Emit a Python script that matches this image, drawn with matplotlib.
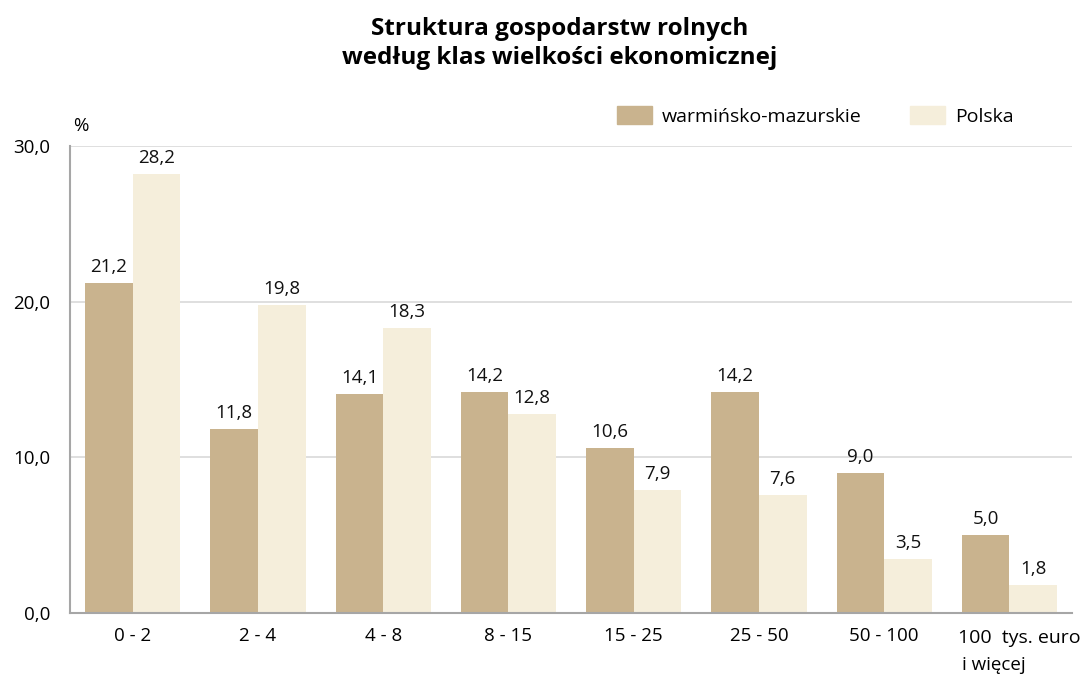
import matplotlib
matplotlib.use("Agg")
import matplotlib.pyplot as plt
import numpy as np
from matplotlib.patches import Patch

plt.rcParams['font.family'] = ['Open Sans', 'DejaVu Sans']

categories = ["0 - 2", "2 - 4", "4 - 8", "8 - 15", "15 - 25", "25 - 50", "50 - 100",
              "100  tys. euro\ni więcej"]
warm_maz = [21.2, 11.8, 14.1, 14.2, 10.6, 14.2, 9.0, 5.0]
polska = [28.2, 19.8, 18.3, 12.8, 7.9, 7.6, 3.5, 1.8]
series_names = ["warmińsko-mazurskie", "Polska"]
yticks = [0, 10, 20, 30]

c_region = "#C9B38E"
c_pl = "#F5EEDB"
fs = 13.5

fig = plt.figure(figsize=(10.84, 6.74), dpi=100)
ax = fig.add_axes([0.0646, 0.0905, 0.9244, 0.6929])

x = np.arange(len(categories))
w = 0.38
b1 = ax.bar(x - w / 2, warm_maz, w, color=c_region, zorder=2)
b2 = ax.bar(x + w / 2, polska, w, color=c_pl, zorder=2)

for bars, vals in ((b1, warm_maz), (b2, polska)):
    for r, v in zip(bars, vals):
        ax.text(r.get_x() + r.get_width() / 2, v + 0.45, f"{v:.1f}".replace(".", ","),
                ha="center", va="bottom", fontsize=fs, color="#111111")

ax.set_xlim(-0.5, len(categories) - 0.5)
ax.set_ylim(0, 30)
ax.set_yticks(yticks)
ax.set_yticklabels([f"{t:.1f}".replace(".", ",") for t in yticks], fontsize=fs)
ax.yaxis.grid(True, color="#D9D9D9", linewidth=1.2, zorder=0)
ax.set_axisbelow(True)
ax.tick_params(axis="x", length=0, pad=10)
ax.tick_params(axis="y", length=0, pad=14)
ax.set_xticks(x)
ax.set_xticklabels(categories[:-1] + [""], fontsize=fs)
# two-line label for the last class, left-aligned under its bars
last_top, last_bottom = categories[-1].split("\n")
ax.text(x[-1] - 0.41, -1.05, last_top, ha="left", va="top", fontsize=14)
ax.text(x[-1] - 0.38, -2.75, last_bottom, ha="left", va="top", fontsize=fs)

for s in ("top", "right"):
    ax.spines[s].set_visible(False)
for s in ("left", "bottom"):
    ax.spines[s].set_color("#A6A6A6")
    ax.spines[s].set_linewidth(1.5)

fig.text(0.067, 0.8, "%", fontsize=fs, ha="left", va="bottom")

fig.text(0.516, 0.975, "Struktura gospodarstw rolnych\nwedług klas wielkości ekonomicznej",
         ha="center", va="top", fontsize=17.5, fontweight="bold", linespacing=1.3)

fig.legend(handles=[Patch(color=c_region), Patch(color=c_pl)], labels=series_names,
           loc="upper left", bbox_to_anchor=(0.553, 0.868), ncol=2, frameon=False,
           fontsize=14, handlelength=1.8, handleheight=1.0, columnspacing=2.5,
           handletextpad=0.5)

fig.savefig("out.png", dpi=100)
